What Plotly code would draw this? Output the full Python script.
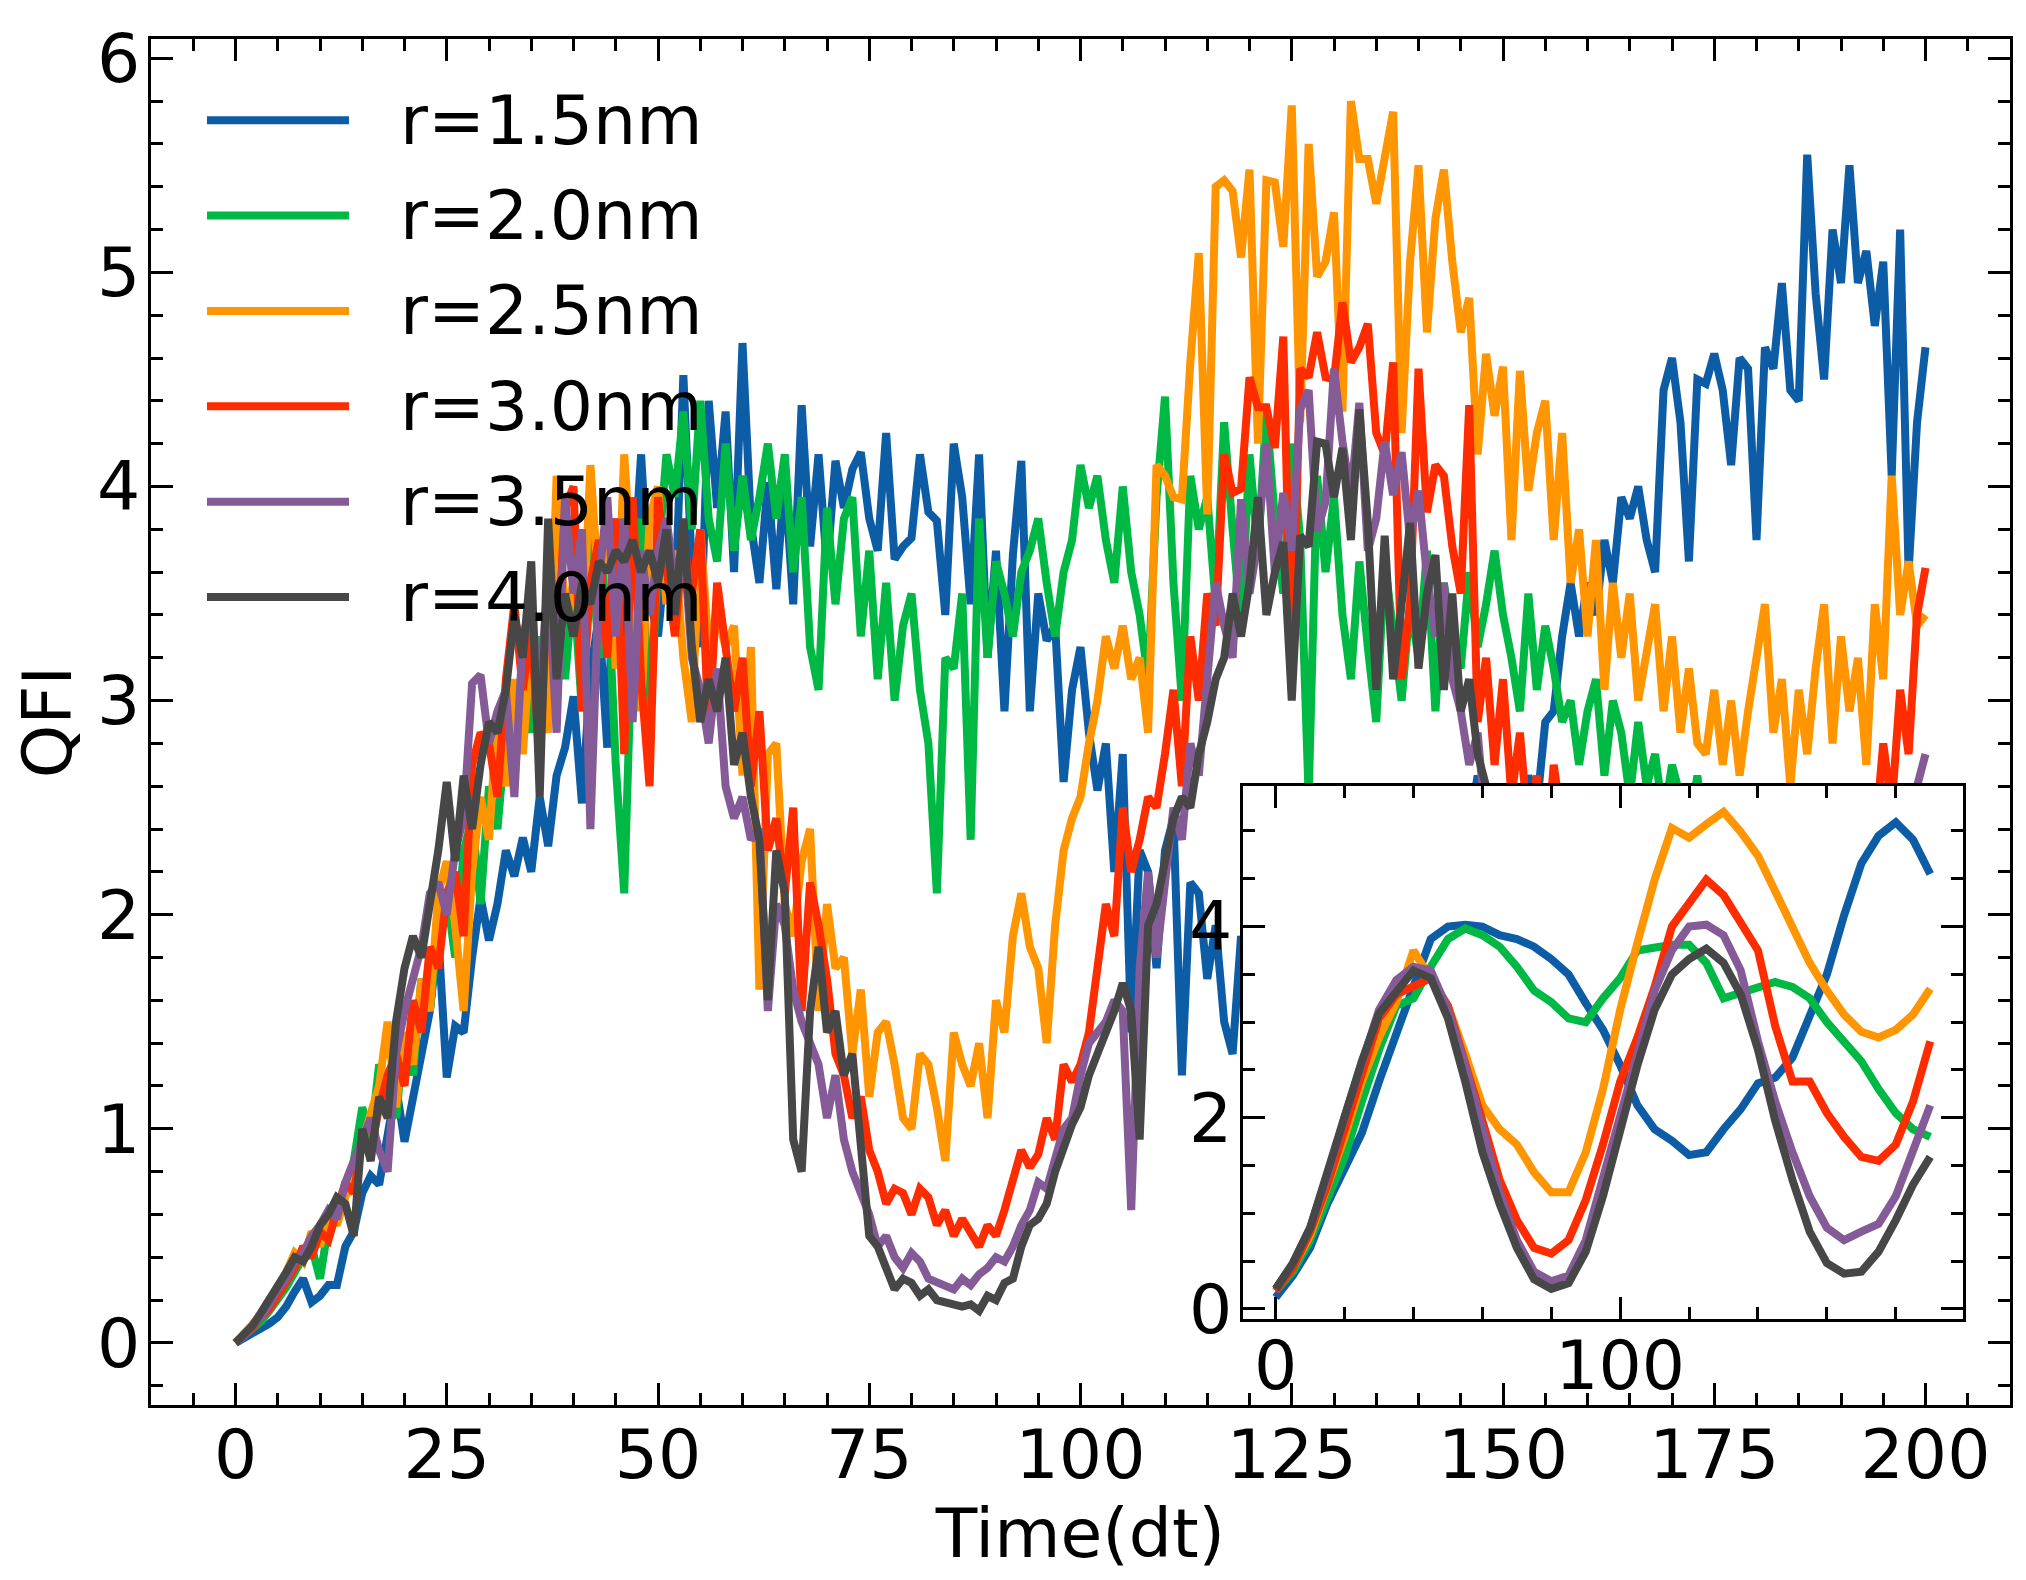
import plotly.graph_objects as go

# ---------------- data ----------------
time_steps = list(range(201))
inset_steps = list(range(0, 191, 5))

series_names = ["r=1.5nm", "r=2.0nm", "r=2.5nm", "r=3.0nm", "r=3.5nm", "r=4.0nm"]
series_colors = ["#0C5DA5", "#00B945", "#FF9500", "#FF2C00", "#845B97", "#474747"]

qfi_r15 = [
    0.00, 0.02, 0.05, 0.06, 0.09, 0.12, 0.17, 0.24, 0.30, 0.19,
    0.22, 0.27, 0.27, 0.45, 0.52, 0.70, 0.78, 0.74, 0.98, 1.20,
    0.94, 1.15, 1.38, 1.55, 1.90, 1.24, 1.48, 1.45, 1.80, 2.08,
    1.88, 2.05, 2.30, 2.18, 2.36, 2.20, 2.55, 2.32, 2.65, 2.78,
    3.02, 2.52, 3.12, 3.40, 2.78, 3.85, 3.30, 3.52, 4.15, 3.48,
    3.30, 3.72, 3.42, 4.52, 3.62, 3.25, 4.40, 3.90, 4.35, 3.60,
    4.67, 3.82, 3.55, 4.02, 3.52, 4.05, 3.45, 4.38, 3.72, 4.15,
    3.62, 4.12, 3.90, 4.08, 4.16, 3.85, 3.70, 4.25, 3.66, 3.72,
    3.76, 4.15, 3.88, 3.84, 3.40, 4.20, 3.95, 3.45, 4.15, 3.20,
    3.70, 2.95, 3.68, 4.12, 2.95, 3.50, 3.28, 3.35, 2.62, 3.05,
    3.25, 2.85, 2.58, 2.80, 2.20, 2.75, 1.45, 2.30, 2.20, 1.75,
    2.30, 2.45, 1.25, 2.15, 2.10, 1.70, 1.95, 1.50, 1.35, 1.90,
    1.60, 1.95, 1.45, 1.80, 1.55, 1.70, 1.40, 1.85, 1.50, 1.65,
    1.45, 1.90, 1.60, 1.75, 1.95, 1.70, 2.05, 1.80, 2.20, 1.90,
    2.30, 2.05, 2.45, 2.15, 2.55, 2.25, 2.40, 2.65, 2.30, 2.50,
    2.35, 2.60, 2.45, 2.65, 2.50, 2.90, 2.95, 3.30, 3.55, 3.30,
    3.55, 3.40, 3.75, 3.55, 3.95, 3.85, 4.00, 3.75, 3.60, 4.45,
    4.60, 4.30, 3.65, 4.50, 4.48, 4.62, 4.45, 4.10, 4.60, 4.55,
    3.75, 4.65, 4.55, 4.95, 4.45, 4.40, 5.55, 4.90, 4.50, 5.20,
    4.95, 5.50, 4.95, 5.10, 4.75, 5.05, 4.05, 5.20, 3.60, 4.30, 4.65,
]

qfi_r20 = [
    0.00, 0.03, 0.07, 0.10, 0.15, 0.20, 0.26, 0.33, 0.40, 0.45,
    0.30, 0.55, 0.62, 0.70, 0.85, 1.10, 0.95, 1.30, 1.20, 1.05,
    1.45, 1.25, 1.70, 1.55, 1.95, 2.10, 1.80, 2.30, 2.45, 2.05,
    2.60, 2.40, 2.85, 2.70, 3.05, 2.85, 3.30, 2.95, 3.50, 3.10,
    3.55, 2.95, 3.80, 3.20, 3.60, 2.70, 2.10, 3.40, 3.85, 2.85,
    3.65, 4.15, 3.95, 4.35, 3.80, 4.40, 3.85, 3.65, 4.20, 3.70,
    4.05, 3.75, 3.95, 4.20, 3.85, 4.15, 3.60, 3.95, 3.25, 3.05,
    3.90, 3.45, 3.85, 3.95, 3.30, 3.70, 3.10, 3.55, 3.00, 3.35,
    3.50, 3.05, 2.80, 2.10, 3.20, 3.15, 3.50, 2.35, 3.85, 3.20,
    3.65, 3.50, 3.30, 3.60, 3.70, 3.85, 3.55, 3.30, 3.60, 3.75,
    4.10, 3.90, 4.05, 3.75, 3.55, 4.00, 3.60, 3.40, 3.10, 3.95,
    4.42, 3.55, 3.00, 4.05, 3.80, 3.95, 3.45, 4.30, 3.80, 3.35,
    4.15, 3.70, 4.35, 3.85, 3.50, 4.20, 3.75, 2.55, 4.05, 3.60,
    3.95, 3.40, 3.10, 3.65, 3.25, 2.90, 3.65, 3.30, 3.00, 3.45,
    3.20, 3.70, 2.95, 3.55, 3.30, 3.15, 3.60, 3.25, 3.45, 3.70,
    3.40, 3.20, 2.95, 3.50, 3.05, 3.35, 3.15, 2.90, 3.00, 2.70,
    2.95, 3.10, 2.65, 3.00, 2.85, 2.55, 2.90, 2.60, 2.75, 2.45,
    2.70, 2.55, 2.40, 2.65, 2.30, 2.50, 2.20, 2.45, 2.10, 2.35,
    2.15, 1.95, 2.20, 2.00, 1.85, 2.10, 1.90, 1.75, 2.05, 1.80,
    1.95, 1.70, 1.85, 1.75, 1.90, 1.65, 1.80, 1.70, 1.85, 1.75, 1.80,
]

qfi_r25 = [
    0.00, 0.04, 0.08, 0.13, 0.20, 0.25, 0.33, 0.42, 0.38, 0.52,
    0.45, 0.60, 0.55, 0.68, 0.80, 0.95, 1.05, 1.20, 1.50, 1.10,
    1.45, 1.30, 1.70, 1.55, 2.10, 2.25, 1.95, 1.55, 2.20, 2.55,
    2.35, 2.95, 2.60, 3.10, 2.75, 3.30, 3.05, 2.85, 4.05, 3.40,
    3.55, 3.20, 4.10, 3.50, 3.90, 3.15, 4.15, 3.60, 2.95, 3.85,
    4.00, 3.45, 3.70, 3.20, 2.90, 3.80, 3.25, 3.40, 3.25, 3.35,
    2.65, 3.25, 1.65, 2.75, 2.80, 2.05, 1.90, 2.25, 2.40, 1.55,
    2.05, 1.75, 1.80, 1.35, 1.65, 1.15, 1.45, 1.50, 1.30, 1.05,
    1.00, 1.35, 1.30, 1.10, 0.85, 1.45, 1.30, 1.20, 1.40, 1.05,
    1.60, 1.45, 1.90, 2.10, 1.85, 1.75, 1.40, 1.95, 2.30, 2.45,
    2.55, 2.80, 3.00, 3.30, 3.15, 3.35, 3.10, 3.20, 2.85, 4.10,
    4.05, 3.95, 3.94, 4.58, 5.09, 3.87, 5.40, 5.43, 5.38, 5.07,
    5.48, 4.20, 5.43, 5.42, 5.12, 5.78, 4.30, 5.60, 4.98, 5.05,
    5.28, 4.35, 5.80, 5.53, 5.53, 5.32, 5.52, 5.75, 4.25, 5.05,
    5.50, 4.72, 5.25, 5.48, 5.05, 4.72, 4.88, 4.15, 4.62, 4.33,
    4.56, 3.75, 4.54, 3.98, 4.25, 4.40, 3.75, 4.25, 3.55, 3.80,
    3.30, 3.75, 3.05, 3.55, 3.20, 3.50, 3.00, 3.25, 3.45, 2.95,
    3.30, 2.85, 3.15, 2.80, 2.75, 3.05, 2.70, 3.00, 2.65, 2.95,
    3.20, 3.45, 2.85, 3.10, 2.60, 3.05, 2.75, 3.15, 3.45, 2.80,
    3.30, 2.95, 3.20, 2.70, 3.45, 3.10, 4.05, 3.40, 3.65, 3.35, 3.40,
]

qfi_r30 = [
    0.00, 0.03, 0.07, 0.12, 0.16, 0.22, 0.28, 0.35, 0.45, 0.40,
    0.52, 0.48, 0.62, 0.75, 0.70, 0.95, 0.90, 1.10, 1.25, 1.35,
    1.20, 1.60, 1.45, 1.85, 1.75, 2.10, 2.20, 1.90, 2.70, 2.85,
    2.80, 2.55, 3.10, 3.45, 3.05, 3.35, 2.70, 3.60, 3.20, 3.90,
    4.00, 2.95, 3.55, 3.75, 3.20, 3.85, 2.75, 3.95, 3.10, 2.60,
    3.95, 3.65, 3.30, 3.75, 3.50, 3.80, 2.85, 3.55, 3.25, 2.95,
    3.20, 2.60, 2.95, 2.30, 2.45, 2.10, 2.50, 1.55, 2.15, 1.95,
    1.70, 1.35, 1.25, 1.05, 1.15, 0.90, 0.80, 0.65, 0.72, 0.70,
    0.60, 0.72, 0.68, 0.55, 0.62, 0.50, 0.58, 0.52, 0.45, 0.55,
    0.50, 0.62, 0.75, 0.90, 0.82, 0.88, 1.05, 0.95, 1.30, 1.22,
    1.30, 1.45, 1.75, 2.05, 1.90, 2.50, 2.20, 2.35, 2.55, 2.50,
    2.75, 3.05, 2.60, 3.30, 3.00, 3.50, 3.35, 4.15, 3.97, 3.99,
    4.51, 4.37, 4.37, 4.18, 4.70, 3.05, 4.55, 4.51, 4.72, 4.51,
    4.50, 4.86, 4.58, 4.65, 4.76, 4.25, 4.15, 4.58, 3.10, 3.45,
    4.55, 3.88, 4.10, 4.05, 3.72, 3.50, 4.38, 2.90, 3.20, 2.70,
    3.10, 2.55, 2.85, 2.40, 2.65, 2.20, 2.70, 2.45, 2.15, 2.50,
    2.35, 2.60, 2.10, 2.45, 2.00, 2.30, 1.95, 2.15, 1.85, 2.05,
    1.75, 1.95, 1.70, 1.85, 1.55, 1.75, 1.50, 1.70, 1.45, 1.65,
    1.50, 1.70, 1.45, 1.65, 1.55, 1.80, 1.60, 1.90, 1.75, 2.05,
    1.95, 2.30, 2.10, 2.55, 2.35, 2.80, 2.50, 3.05, 2.75, 3.40, 3.62,
]

qfi_r35 = [
    0.00, 0.03, 0.08, 0.12, 0.18, 0.25, 0.30, 0.38, 0.42, 0.50,
    0.55, 0.62, 0.58, 0.75, 0.85, 0.95, 1.05, 0.90, 0.80, 1.35,
    1.55, 1.70, 1.85, 2.10, 2.15, 2.00, 2.30, 2.45, 3.08, 3.12,
    2.80, 2.95, 3.05, 2.55, 3.30, 3.45, 3.00, 3.60, 2.85, 3.95,
    3.50, 3.80, 2.40, 3.55, 3.95, 3.30, 3.85, 2.90, 3.70, 3.40,
    3.70, 3.85, 3.55, 3.75, 3.20, 3.05, 2.80, 3.15, 2.60, 2.45,
    2.55, 2.35, 2.40, 1.55, 2.05, 1.95, 1.65, 1.50, 1.40, 1.30,
    1.05, 1.25, 0.95, 0.80, 0.70, 0.60, 0.45, 0.50, 0.40, 0.35,
    0.42, 0.38, 0.30, 0.28, 0.26, 0.25, 0.30, 0.27, 0.32, 0.35,
    0.40, 0.38, 0.45, 0.55, 0.62, 0.75, 0.72, 0.85, 1.00, 1.05,
    1.25, 1.40, 1.45, 1.50, 1.60, 1.55, 0.62, 1.75, 2.20, 1.80,
    2.15, 2.50, 2.35, 2.80, 2.65, 3.10, 3.55, 3.35, 3.20, 3.94,
    3.50, 3.75, 4.20, 3.60, 3.97, 3.70, 4.36, 4.45, 3.79, 3.93,
    4.55, 4.21, 3.95, 4.39, 3.70, 3.85, 4.21, 3.96, 4.16, 3.75,
    3.98, 3.58, 3.30, 3.55, 3.10, 2.95, 2.70, 2.85, 2.40, 2.60,
    2.20, 2.35, 1.95, 1.80, 1.70, 1.55, 1.45, 1.60, 1.25, 1.35,
    1.10, 1.20, 0.95, 1.05, 0.85, 0.90, 0.75, 0.80, 0.70, 0.78,
    0.72, 0.85, 0.68, 0.80, 0.90, 0.75, 0.95, 0.85, 1.00, 0.90,
    1.05, 0.95, 1.20, 1.10, 1.35, 1.25, 1.50, 1.40, 1.75, 1.65,
    1.90, 1.80, 2.05, 2.20, 2.00, 2.35, 2.25, 2.50, 2.45, 2.60, 2.75,
]

qfi_r40 = [
    0.00, 0.04, 0.08, 0.14, 0.20, 0.26, 0.33, 0.40, 0.38, 0.45,
    0.55, 0.60, 0.68, 0.65, 0.50, 1.00, 0.85, 1.15, 1.05, 1.50,
    1.75, 1.90, 1.80, 2.05, 2.30, 2.62, 2.25, 2.65, 2.40, 2.70,
    2.90, 2.85, 3.05, 3.40, 3.20, 3.65, 2.55, 3.85, 3.10, 3.50,
    3.30, 3.55, 3.45, 3.65, 3.60, 3.70, 3.65, 3.75, 3.60, 3.70,
    3.55, 3.80, 3.40, 3.85, 3.25, 2.90, 3.10, 2.95, 3.20, 2.70,
    2.85, 2.55, 2.35, 1.60, 2.30, 2.10, 0.95, 0.80, 1.55, 1.85,
    1.45, 1.55, 1.25, 1.35, 0.95, 0.50, 0.45, 0.35, 0.25, 0.30,
    0.28, 0.22, 0.25, 0.20, 0.19, 0.18, 0.17, 0.18, 0.15, 0.22,
    0.20, 0.28, 0.30, 0.45, 0.55, 0.58, 0.65, 0.80, 0.92, 1.02,
    1.10, 1.25, 1.35, 1.45, 1.55, 1.68, 1.55, 0.95, 1.95, 2.05,
    2.25, 2.45, 2.55, 2.50, 2.75, 2.90, 3.10, 3.20, 3.50, 3.30,
    3.55, 3.95, 3.40, 3.60, 3.74, 3.00, 3.77, 3.72, 4.21, 4.20,
    3.95, 4.18, 3.75, 4.36, 3.83, 3.05, 3.77, 3.10, 3.45, 3.83,
    3.15, 3.50, 3.68, 3.05, 3.50, 2.95, 3.10, 2.75, 2.60, 2.45,
    2.20, 2.00, 1.85, 1.60, 1.55, 1.35, 1.20, 1.10, 0.95, 0.85,
    0.75, 0.68, 0.55, 0.50, 0.45, 0.42, 0.40, 0.38, 0.35, 0.37,
    0.36, 0.38, 0.35, 0.40, 0.42, 0.45, 0.50, 0.55, 0.62, 0.70,
    0.75, 0.82, 0.90, 0.95, 1.02, 1.10, 1.15, 1.25, 1.30, 1.38,
    1.35, 1.45, 1.50, 1.48, 1.60, 1.55, 1.65, 1.70, 1.68, 1.80, 1.85,
]

inset_r15 = [0.12, 0.35, 0.64, 1.10, 1.47, 1.84, 2.38, 2.88, 3.37, 3.87,
             4.00, 4.02, 4.00, 3.91, 3.87, 3.79, 3.66, 3.50, 3.20, 2.92,
             2.55, 2.13, 1.88, 1.76, 1.61, 1.64, 1.88, 2.09, 2.36, 2.42,
             2.63, 3.04, 3.50, 4.12, 4.66, 4.95, 5.09, 4.91, 4.55]
inset_r20 = [0.19, 0.39, 0.72, 1.14, 1.59, 2.17, 2.71, 3.17, 3.25, 3.58,
             3.87, 3.98, 3.91, 3.79, 3.58, 3.33, 3.21, 3.04, 3.00, 3.25,
             3.46, 3.75, 3.79, 3.81, 3.81, 3.62, 3.25, 3.31, 3.37, 3.42,
             3.37, 3.25, 3.00, 2.80, 2.59, 2.30, 2.05, 1.88, 1.80]
inset_r25 = [0.21, 0.43, 0.77, 1.26, 1.80, 2.38, 2.84, 3.21, 3.75, 3.46,
             3.17, 2.67, 2.13, 1.88, 1.72, 1.43, 1.22, 1.22, 1.64, 2.30,
             3.13, 3.83, 4.49, 5.03, 4.93, 5.07, 5.20, 4.99, 4.74, 4.37,
             4.00, 3.62, 3.33, 3.08, 2.90, 2.84, 2.92, 3.08, 3.35]
inset_r30 = [0.19, 0.43, 0.81, 1.30, 1.88, 2.46, 3.04, 3.29, 3.37, 3.46,
             3.17, 2.59, 1.97, 1.35, 0.93, 0.64, 0.58, 0.72, 1.14, 1.72,
             2.38, 2.84, 3.37, 4.00, 4.24, 4.49, 4.33, 4.04, 3.75, 2.96,
             2.38, 2.38, 2.05, 1.80, 1.59, 1.55, 1.72, 2.17, 2.80]
inset_r35 = [0.21, 0.48, 0.85, 1.39, 2.01, 2.59, 3.13, 3.44, 3.58, 3.54,
             3.13, 2.55, 1.88, 1.22, 0.72, 0.39, 0.29, 0.35, 0.72, 1.35,
             2.01, 2.67, 3.33, 3.75, 4.00, 4.02, 3.91, 3.54, 2.80, 2.17,
             1.64, 1.18, 0.85, 0.72, 0.81, 0.89, 1.18, 1.64, 2.13]
inset_r40 = [0.21, 0.48, 0.85, 1.43, 2.05, 2.59, 3.09, 3.33, 3.54, 3.46,
             3.04, 2.38, 1.64, 1.10, 0.64, 0.31, 0.21, 0.27, 0.60, 1.18,
             1.88, 2.55, 3.13, 3.50, 3.66, 3.77, 3.62, 3.29, 2.71, 1.97,
             1.35, 0.81, 0.48, 0.37, 0.39, 0.60, 0.93, 1.30, 1.59]

main_ticks_x = [0, 25, 50, 75, 100, 125, 150, 175, 200]
main_ticks_y = [0, 1, 2, 3, 4, 5, 6]
inset_ticks_x = [0, 100]
inset_ticks_y = [0, 2, 4]

main_series = [qfi_r15, qfi_r20, qfi_r25, qfi_r30, qfi_r35, qfi_r40]
inset_series = [inset_r15, inset_r20, inset_r25, inset_r30, inset_r35, inset_r40]

# ---------------- figure ----------------
FONT = "DejaVu Sans"
FS = 68
LW = 8

fig = go.Figure()
for name, color, ys in zip(series_names, series_colors, main_series):
    fig.add_trace(go.Scatter(x=time_steps, y=ys, mode="lines", name=name,
                             line=dict(color=color, width=LW),
                             showlegend=False, xaxis="x", yaxis="y"))
for name, color, ys in zip(series_names, series_colors, inset_series):
    fig.add_trace(go.Scatter(x=inset_steps, y=ys, mode="lines", name=name,
                             line=dict(color=color, width=LW),
                             showlegend=False, xaxis="x2", yaxis="y2"))

axis_common = dict(
    showline=True, linewidth=3.2, linecolor="black", mirror="allticks",
    ticks="inside", ticklen=22, tickwidth=3, tickcolor="black",
    showgrid=False, zeroline=False, ticklabeloverflow="allow",
    tickfont=dict(family=FONT, size=FS, color="black"),
)

def minor(step):
    return dict(ticks="inside", dtick=step, tick0=0, ticklen=12,
                tickwidth=2.5, tickcolor="black")

fig.update_layout(
    width=2026, height=1580,
    margin=dict(l=143, r=24, t=11, b=183),
    paper_bgcolor="white", plot_bgcolor="white",
    font=dict(family=FONT, size=FS, color="black"),
    xaxis=dict(range=[-10, 210], tickmode="array", tickvals=main_ticks_x,
               minor=minor(5), ticklabelstandoff=-12,
               title=dict(text="Time(dt)", font=dict(family=FONT, size=FS), standoff=10),
               **axis_common),
    yaxis=dict(range=[-0.29, 6.09], tickmode="array", tickvals=main_ticks_y,
               minor=minor(0.2), ticklabelstandoff=-6,
               title=dict(text="QFI", font=dict(family=FONT, size=FS), standoff=8),
               **axis_common),
    xaxis2=dict(domain=[0.5874, 0.9747], anchor="y2", range=[-9.5, 199.5],
                tickmode="array", tickvals=inset_ticks_x,
                minor=minor(20), ticklabelstandoff=-15,
                **axis_common),
    yaxis2=dict(domain=[0.0628, 0.4531], anchor="x2", range=[-0.107, 5.47],
                tickmode="array", tickvals=inset_ticks_y,
                minor=minor(0.5), ticklabelstandoff=-6,
                **axis_common),
)

# ---------------- legend (long line samples like the original) ----------------
leg_line_x0, leg_line_x1, leg_text_x = 0.0301, 0.1065, 0.1329
leg_y_top, leg_y_step = 0.9405, 0.0698
for i, (name, color) in enumerate(zip(series_names, series_colors)):
    yy = leg_y_top - i * leg_y_step
    fig.add_shape(type="line", xref="paper", yref="paper",
                  x0=leg_line_x0, x1=leg_line_x1, y0=yy, y1=yy,
                  line=dict(color=color, width=LW), layer="above")
    fig.add_annotation(xref="paper", yref="paper", x=leg_text_x, y=yy,
                       text=name, showarrow=False, xanchor="left", yanchor="middle",
                       font=dict(family=FONT, size=FS, color="black"))

fig.write_html("out.html")
